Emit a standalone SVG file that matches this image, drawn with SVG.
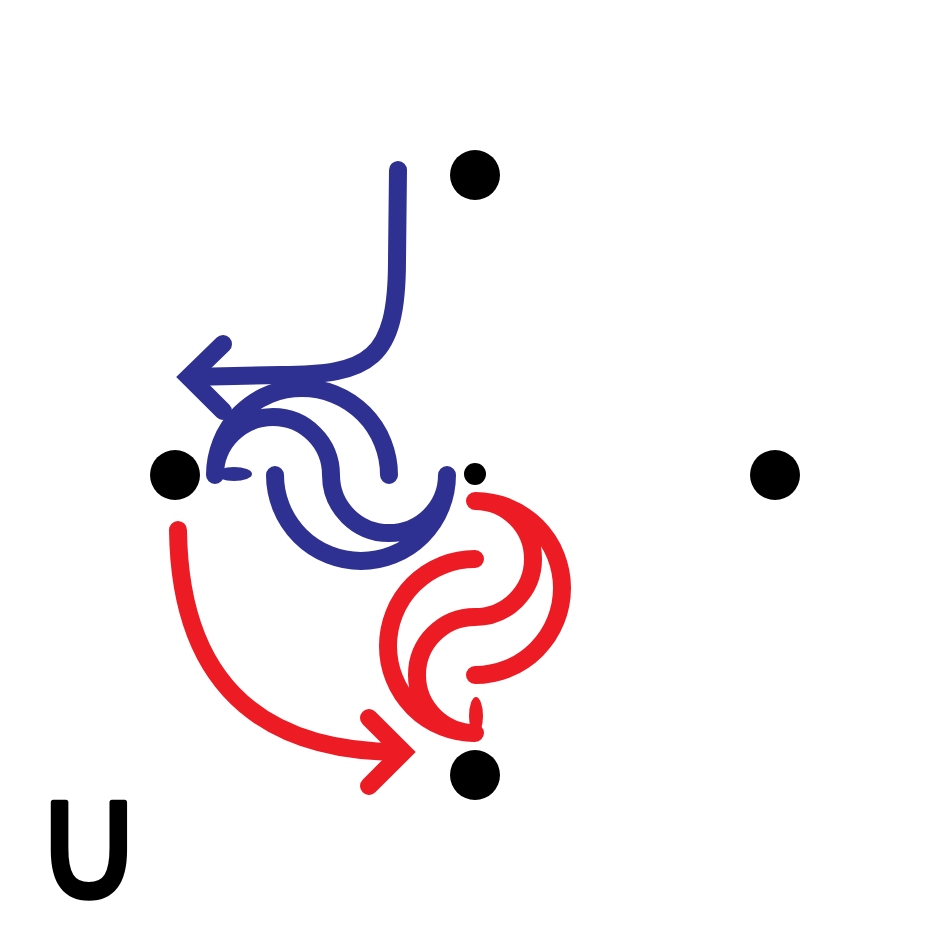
<svg xmlns="http://www.w3.org/2000/svg" width="950" height="950" viewBox="0 0 950 950">
<style>
.blue{fill:none;stroke:#2E3192;stroke-width:18;stroke-linecap:round;stroke-linejoin:round}
.red{fill:none;stroke:#ED1C24;stroke-width:18;stroke-linecap:round;stroke-linejoin:round}
.head{stroke-linejoin:miter;stroke-miterlimit:10}
.dot{fill:#000}
.lbl{font-family:"DejaVu Sans",sans-serif;font-size:150px;fill:#000;stroke:#000;stroke-width:5;stroke-linejoin:round}
</style>
<rect width="950" height="950" fill="#fff"/>
<g id="node-top"><circle class="dot" cx="475" cy="175" r="25"/></g>
<g id="node-left"><circle class="dot" cx="175" cy="475" r="25"/></g>
<g id="node-center"><circle class="dot" cx="475" cy="474" r="11"/></g>
<g id="node-right"><circle class="dot" cx="775" cy="475" r="25"/></g>
<g id="node-bottom"><circle class="dot" cx="475" cy="775" r="25"/></g>
<g id="connectors">
<path class="blue" d="M398,170 L397,260 C397,360 370,375 280,375 L190,377"/>
<path class="blue head" d="M223,344 L189,377 L223,411"/>
<path class="red" d="M178,530 C180,700 280,752 400,752"/>
<path class="red head" d="M369,718 L403,752 L369,786"/>
</g>
<g id="blue-symbol">
<path class="blue" d="M389,475 A87,87 0 0 0 215,475 A58,58 0 0 1 331,475 A58,58 0 0 0 447,475 A86,86 0 0 1 275,475"/>
<ellipse cx="234" cy="474" rx="18" ry="7" fill="#2E3192"/>
</g>
<g id="red-symbol">
<path class="red" d="M475,675 A87,87 0 0 0 475,501 A58,58 0 0 1 475,617 A58,58 0 0 0 475,733 A87,87 0 0 1 475,559"/>
<ellipse cx="476" cy="716" rx="7" ry="19" fill="#ED1C24"/>
</g>
<g id="label"><text class="lbl" transform="translate(34,898) scale(1,1.1)" x="0" y="0">∪</text></g>
</svg>
